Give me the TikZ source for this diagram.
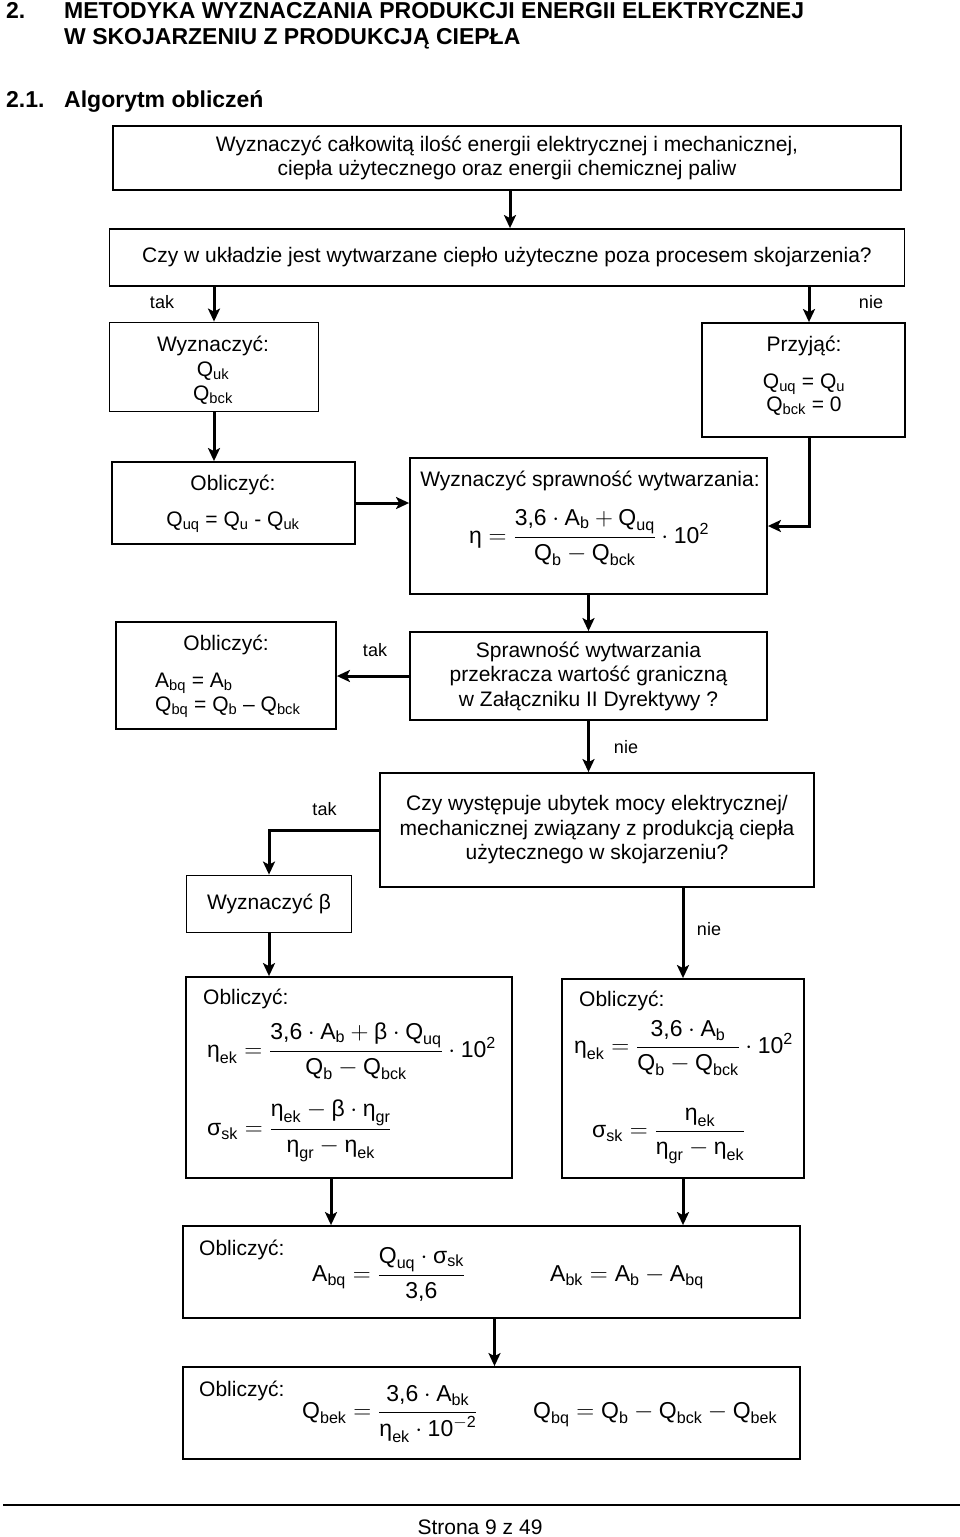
\documentclass[tikz,border=0pt]{standalone}
\usepackage{fontspec}
\setmainfont{Liberation Sans}
\setsansfont{Liberation Sans}
\usepackage{amsmath}
\usetikzlibrary{arrows.meta}
\newcommand{\T}[1]{\text{#1}}
\newcommand{\V}[2]{\text{#1}_{\text{#2}}}
\newcommand{\Sb}[2]{#1\textsubscript{#2}}
\begin{document}
\begin{tikzpicture}[x=1pt,y=-1pt,
  box/.style={draw, line width=1.8pt, inner sep=0pt},
  arr/.style={line width=3pt, -{Stealth[length=13pt,width=12pt,inset=3pt]}},
  txt/.style={inner sep=0pt, font=\fontsize{21}{24.5}\selectfont},
  lbl/.style={inner sep=0pt, font=\fontsize{18}{22}\selectfont},
  fml/.style={inner sep=0pt, font=\fontsize{23}{27}\selectfont},
  hdr/.style={inner sep=0pt, font=\bfseries\fontsize{23}{27}\selectfont},
]
\useasboundingbox (0,0) rectangle (960,1537);
% header
\node[hdr, anchor=base west] (h1) at (6,18) {2.};
\node[hdr, anchor=base west] (h2) at (64,18) {METODYKA WYZNACZANIA PRODUKCJI ENERGII ELEKTRYCZNEJ};
\node[hdr, anchor=base west] (h3) at (64,44) {W SKOJARZENIU Z PRODUKCJĄ CIEPŁA};
\node[hdr, anchor=base west] (h4) at (6,107) {2.1.};
\node[hdr, anchor=base west] (h5) at (64,107) {Algorytm obliczeń};

% boxes
\node[box, txt, align=center, minimum width=788pt, minimum height=64pt] (b1) at (507,158)
  {Wyznaczyć całkowitą ilość energii elektrycznej i mechanicznej,\\ ciepła użytecznego oraz energii chemicznej paliw};
\node[box, txt, minimum width=795pt, minimum height=57pt] (b2) at (507,257.5)
  {Czy w układzie jest wytwarzane ciepło użyteczne poza procesem skojarzenia?};
\node[box, minimum width=209pt, minimum height=89pt] (b3) at (214,367) {};
\node[box, minimum width=203pt, minimum height=114pt] (b4) at (803.5,380) {};
\node[box, minimum width=243pt, minimum height=82pt] (b5) at (233.5,503) {};
\node[box, minimum width=357pt, minimum height=136pt] (b6) at (588.5,526) {};
\node[box, txt, align=center, minimum width=357pt, minimum height=88pt] (b7) at (588.5,676)
  {Sprawność wytwarzania\\ przekracza wartość graniczną\\ w Załączniku II Dyrektywy ?};
\node[box, minimum width=220pt, minimum height=107pt] (b8) at (226,675.5) {};
\node[box, txt, align=center, minimum width=434pt, minimum height=114pt] (b9) at (597,830)
  {Czy występuje ubytek mocy elektrycznej/\\ mechanicznej związany z produkcją ciepła\\ użytecznego w skojarzeniu?};
\node[box, txt, minimum width=165pt, minimum height=57pt] (b10) at (269,904) {Wyznaczyć β};
\node[box, minimum width=326pt, minimum height=201pt] (b11) at (349,1077.5) {};
\node[box, minimum width=242pt, minimum height=199pt] (b12) at (683,1078.5) {};
\node[box, minimum width=617pt, minimum height=92pt] (b13) at (491.5,1272) {};
\node[box, minimum width=617pt, minimum height=92pt] (b14) at (491.5,1413) {};

% box 3
\node[txt, anchor=base] (t3a) at (213,351) {Wyznaczyć:};
\node[txt, anchor=base] (t3b) at (213,376) {\Sb{Q}{uk}};
\node[txt, anchor=base] (t3c) at (213,400) {\Sb{Q}{bck}};
% box 4
\node[txt, anchor=base] (t4a) at (804,351) {Przyjąć:};
\node[txt, anchor=base] (t4b) at (804,388) {\Sb{Q}{uq} = \Sb{Q}{u}};
\node[txt, anchor=base] (t4c) at (804,411) {\Sb{Q}{bck} = 0};
% box 5
\node[txt, anchor=base] (t5a) at (233,490) {Obliczyć:};
\node[txt, anchor=base] (t5b) at (233,526) {\Sb{Q}{uq} = \Sb{Q}{u} - \Sb{Q}{uk}};
% box 6
\node[txt, anchor=base] (t6a) at (590,486) {Wyznaczyć sprawność wytwarzania:};
\node[fml, anchor=base] (f6) at (589,543.5)
  {$\T{η} = \dfrac{\T{3,6}\cdot\V{A}{b}+\V{Q}{uq}}{\V{Q}{b}-\V{Q}{bck}}\cdot\T{10}^{\T{2}}$};
% box 8
\node[txt, anchor=base] (t8a) at (226,650) {Obliczyć:};
\node[txt, anchor=base west] (t8b) at (155,687) {\Sb{A}{bq} = \Sb{A}{b}};
\node[txt, anchor=base west] (t8c) at (155,711) {\Sb{Q}{bq} = \Sb{Q}{b} – \Sb{Q}{bck}};
% box 11
\node[txt, anchor=base west] (t11a) at (203,1004) {Obliczyć:};
\node[fml, anchor=base west] (f11a) at (207,1057.5)
  {$\V{η}{ek} = \dfrac{\T{3,6}\cdot\V{A}{b}+\T{β}\cdot\V{Q}{uq}}{\V{Q}{b}-\V{Q}{bck}}\cdot\T{10}^{\T{2}}$};
\node[fml, anchor=base west] (f11b) at (207,1135.5)
  {$\V{σ}{sk} = \dfrac{\V{η}{ek}-\T{β}\cdot\V{η}{gr}}{\V{η}{gr}-\V{η}{ek}}$};
% box 12
\node[txt, anchor=base west] (t12a) at (579,1006) {Obliczyć:};
\node[fml, anchor=base west] (f12a) at (574,1053.5)
  {$\V{η}{ek} = \dfrac{\T{3,6}\cdot\V{A}{b}}{\V{Q}{b}-\V{Q}{bck}}\cdot\T{10}^{\T{2}}$};
\node[fml, anchor=base west] (f12b) at (592,1137.5)
  {$\V{σ}{sk} = \dfrac{\V{η}{ek}}{\V{η}{gr}-\V{η}{ek}}$};
% box 13
\node[txt, anchor=base west] (t13a) at (199,1255) {Obliczyć:};
\node[fml, anchor=base west] (f13a) at (312,1281.5)
  {$\V{A}{bq} = \dfrac{\V{Q}{uq}\cdot\V{σ}{sk}}{\T{3,6}}$};
\node[fml, anchor=base west] (f13b) at (550,1281.5)
  {$\V{A}{bk} = \V{A}{b}-\V{A}{bq}$};
% box 14
\node[txt, anchor=base west] (t14a) at (199,1396) {Obliczyć:};
\node[fml, anchor=base west] (f14a) at (302,1418.5)
  {$\V{Q}{bek} = \dfrac{\T{3,6}\cdot\V{A}{bk}}{\V{η}{ek}\cdot\T{10}^{-\T{2}}}$};
\node[fml, anchor=base west] (f14b) at (533,1418.5)
  {$\V{Q}{bq} = \V{Q}{b}-\V{Q}{bck}-\V{Q}{bek}$};

% labels
\node[lbl, anchor=base] (l1) at (162,308) {tak};
\node[lbl, anchor=base] (l2) at (871,308) {nie};
\node[lbl, anchor=base] (l3) at (375,656) {tak};
\node[lbl, anchor=base] (l4) at (626,753) {nie};
\node[lbl, anchor=base] (l5) at (324.5,815) {tak};
\node[lbl, anchor=base] (l6) at (709,935) {nie};

% connectors
\coordinate (c4) at (809,0);
\coordinate (c11) at (331,0);
\draw[arr] ([xshift=3pt]b1.south) -- ([xshift=3pt]b1.south |- b2.north);
\draw[arr] (b3.north |- b2.south) -- (b3.north);
\draw[arr] (c4 |- b2.south) -- (c4 |- b4.north);
\draw[arr] (b3.south) -- (b3.south |- b5.north);
\draw[arr] (b5.east) -- (b5.east -| b6.west);
\draw[arr] (c4 |- b4.south) |- (b6.east);
\draw[arr] (b6.south) -- (b7.north);
\draw[arr] (b7.west) -- (b7.west -| b8.east);
\draw[arr] (b7.south) -- (b7.south |- b9.north);
\draw[arr] (b9.west) -| (b10.north);
\draw[arr] (b12.north |- b9.south) -- (b12.north);
\draw[arr] (b10.south) -- (b10.south |- b11.north);
\draw[arr] (c11 |- b11.south) -- (c11 |- b13.north);
\draw[arr] (b12.south) -- (b12.south |- b13.north);
\draw[arr] ([xshift=3pt]b13.south) -- ([xshift=3pt]b14.north);

% footer
\coordinate (fl) at (3,1505);
\coordinate (fr) at (960,1505);
\draw[line width=2pt] (fl) -- (fr);
\node[txt, anchor=base] (ft) at (480,1534) {Strona 9 z 49};
\end{tikzpicture}
\end{document}
